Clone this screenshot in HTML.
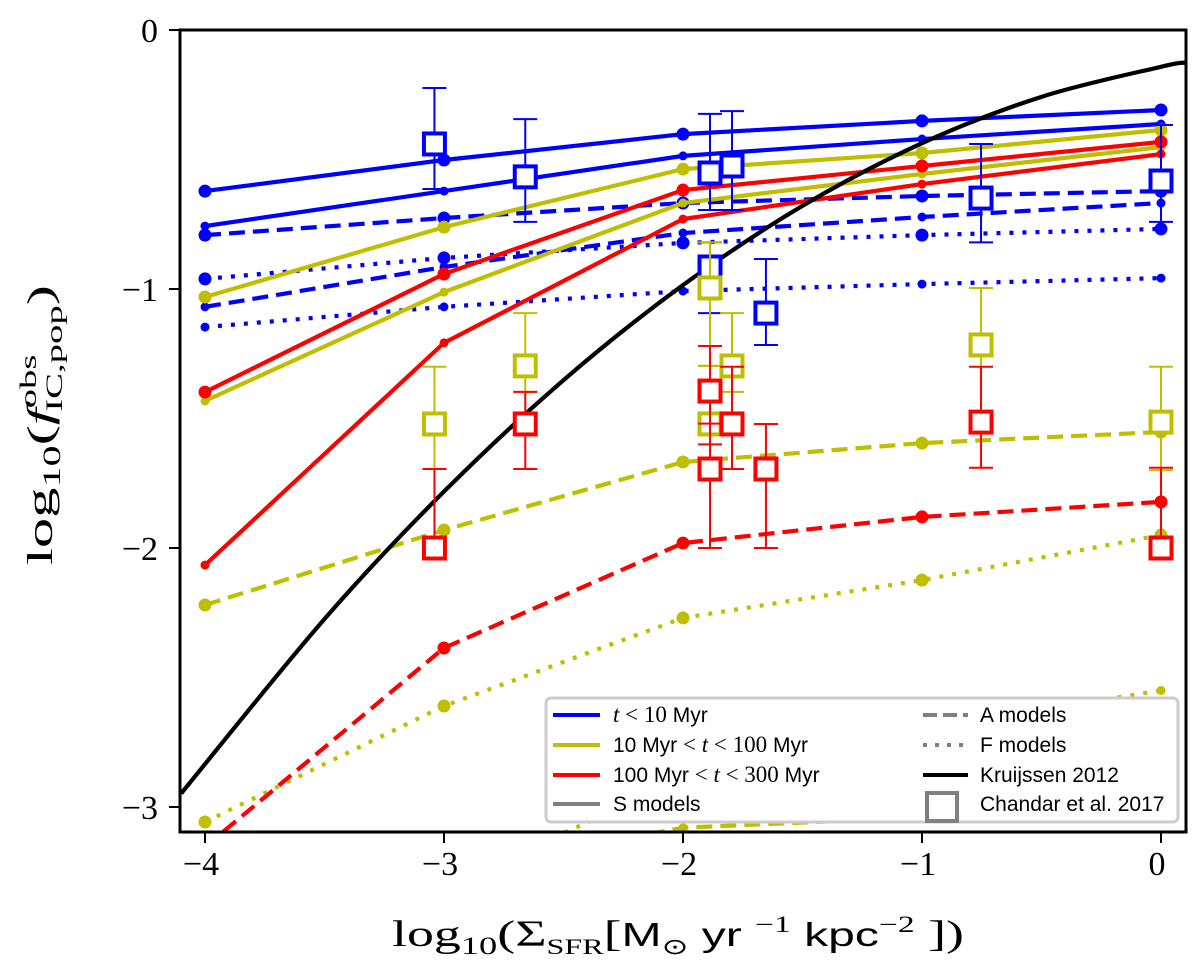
<!DOCTYPE html>
<html><head><meta charset="utf-8"><style>
html,body{margin:0;padding:0;background:#fff;overflow:hidden;width:1200px;height:969px;}
#wrap{position:relative;width:1200px;height:969px;overflow:hidden;}
svg{display:block;position:absolute;left:0;top:0;}
</style></head><body>
<div id="wrap">
<svg id="chart" width="1200" height="969" xmlns="http://www.w3.org/2000/svg">
<defs><clipPath id="clip"><rect x="181" y="31" width="1004" height="800"/></clipPath></defs>
<rect width="1200" height="969" fill="#fff"/>
<g id="plot" clip-path="url(#clip)"></g>
<g id="axes"></g>
</svg>
<script>
const xCats = [-4, -3, -2, -1, 0];
const blueS1 = [-0.622, -0.502, -0.402, -0.351, -0.309];
const blueS2 = [-0.757, -0.622, -0.486, -0.421, -0.363];
const blueA1 = [-0.792, -0.726, -0.668, -0.641, -0.622];
const blueA2 = [-1.069, -0.915, -0.784, -0.722, -0.668];
const blueF1 = [-0.961, -0.880, -0.822, -0.792, -0.768];
const blueF2 = [-1.147, -1.069, -1.008, -0.981, -0.958];
const yellowS1 = [-1.031, -0.761, -0.537, -0.475, -0.386];
const yellowS2 = [-1.432, -1.012, -0.668, -0.556, -0.452];
const yellowA1 = [-2.220, -1.931, -1.668, -1.595, -1.552];
const yellowA2 = [-3.5, -3.25, -3.08, -3.04, -3.0];
const yellowF1 = [-3.058, -2.610, -2.270, -2.124, -1.950];
const yellowF2 = [-3.8, -3.3, -2.9, -2.7, -2.55];
const redS1 = [-1.398, -0.942, -0.618, -0.525, -0.432];
const redS2 = [-2.066, -1.208, -0.730, -0.595, -0.479];
const redA1 = [-3.154, -2.386, -1.981, -1.880, -1.822];
const kruX = [-4.1, -3.5, -3, -2.5, -2, -1.5, -1, -0.5, 0, 0.1];
const kruY = [-2.948, -2.274, -1.782, -1.352, -0.985, -0.679, -0.437, -0.258, -0.142, -0.126];
const chX = [-3.04, -2.66, -1.887, -1.795, -1.887, -1.653, -0.753, 0,
             -3.04, -2.66, -1.887, -1.887, -1.795, -0.753, 0,
             -3.04, -2.66, -1.887, -1.887, -1.795, -1.653, -0.753, 0];
const chY = [-0.44, -0.567, -0.552, -0.525, -0.915, -1.093, -0.649, -0.583,
             -1.521, -1.297, -0.996, -1.521, -1.297, -1.216, -1.514,
             -2.0, -1.521, -1.394, -1.695, -1.521, -1.695, -1.514, -2.0];
const chHi = [-0.224, -0.344, -0.324, -0.313, -0.82, -0.884, -0.44, -0.367,
              -1.30, -1.093, -0.82, -1.297, -1.093, -0.996, -1.30,
              -1.695, -1.397, -1.22, -1.52, -1.30, -1.521, -1.30, -1.69];
const chLo = [-0.614, -0.741, -0.695, -0.695, -1.093, -1.216, -0.82, -0.741,
              -1.695, -1.397, -1.297, -1.70, -1.397, -1.52, -1.70,
              -2.0, -1.695, -1.6, -2.0, -1.695, -2.0, -1.69, -2.0];
const chGroup = ['b','b','b','b','b','b','b','b','y','y','y','y','y','y','y','r','r','r','r','r','r','r','r'];
const xTicks = [-4, -3, -2, -1, 0];
const xTickLabels = ['−4', '−3', '−2', '−1', '0'];
const yTicks = [0, -1, -2, -3];
const yTickLabels = ['0', '−1', '−2', '−3'];

const X = v => 1161 + 239 * v;
const Y = v => 30 - 259 * v;
const NS = 'http://www.w3.org/2000/svg';
const COL = {b: '#0000ff', y: '#bfbf00', r: '#ff0000'};
function mk(tag, attrs, parent) {
  const e = document.createElementNS(NS, tag);
  for (const k in attrs) e.setAttribute(k, attrs[k]);
  parent.appendChild(e);
  return e;
}
const plot = document.getElementById('plot');
const axes = document.getElementById('axes');
const DASH = {S: '', A: '16,8', F: '4,9'};

function series(vals, color, style, r, name) {
  const g = mk('g', {}, plot);
  
  
  const pts = xCats.map((x, i) => X(x) + ',' + Y(vals[i])).join(' ');
  const pl = mk('polyline', {points: pts, fill: 'none', stroke: color, 'stroke-width': 4.2, 'stroke-dasharray': DASH[style]}, g);
  
  
  xCats.forEach((x, i) => {
    const c = mk('circle', {cx: X(x), cy: Y(vals[i]), r: r, fill: color}, g);
    
    
  });
}
series(blueS1, COL.b, 'S', 6.5, 'blue-s-model-1');
series(blueS2, COL.b, 'S', 4.5, 'blue-s-model-2');
series(blueA1, COL.b, 'A', 6.5, 'blue-a-model-1');
series(blueA2, COL.b, 'A', 4.5, 'blue-a-model-2');
series(blueF1, COL.b, 'F', 6.5, 'blue-f-model-1');
series(blueF2, COL.b, 'F', 4.5, 'blue-f-model-2');
series(yellowS1, COL.y, 'S', 6.5, 'yellow-s-model-1');
series(yellowS2, COL.y, 'S', 4.5, 'yellow-s-model-2');
series(yellowA1, COL.y, 'A', 6.5, 'yellow-a-model-1');
series(yellowA2, COL.y, 'A', 4.5, 'yellow-a-model-2');
series(yellowF1, COL.y, 'F', 6.5, 'yellow-f-model-1');
series(yellowF2, COL.y, 'F', 4.5, 'yellow-f-model-2');
series(redS1, COL.r, 'S', 6.5, 'red-s-model-1');
series(redS2, COL.r, 'S', 4.5, 'red-s-model-2');
series(redA1, COL.r, 'A', 6.5, 'red-a-model-1');

(function () {
  const P = kruX.map((x, i) => [X(x), Y(kruY[i])]);
  let d = 'M' + P[0][0] + ',' + P[0][1];
  for (let i = 0; i < P.length - 1; i++) {
    const p0 = P[Math.max(0, i - 1)], p1 = P[i], p2 = P[i + 1], p3 = P[Math.min(P.length - 1, i + 2)];
    const c1 = [p1[0] + (p2[0] - p0[0]) / 6, p1[1] + (p2[1] - p0[1]) / 6];
    const c2 = [p2[0] - (p3[0] - p1[0]) / 6, p2[1] - (p3[1] - p1[1]) / 6];
    d += ' C' + c1 + ' ' + c2 + ' ' + p2;
  }
  const k = mk('path', {d: d, fill: 'none', stroke: '#000', 'stroke-width': 4.2}, plot);
  
  
})();

chX.forEach((x, i) => {
  const g = mk('g', {}, plot);
  
  
  const c = COL[chGroup[i]], px = X(x);
  mk('line', {x1: px, x2: px, y1: Y(chHi[i]), y2: Y(chLo[i]), stroke: c, 'stroke-width': 2}, g);
  mk('line', {x1: px - 12, x2: px + 12, y1: Y(chHi[i]), y2: Y(chHi[i]), stroke: c, 'stroke-width': 2}, g);
  mk('line', {x1: px - 12, x2: px + 12, y1: Y(chLo[i]), y2: Y(chLo[i]), stroke: c, 'stroke-width': 2}, g);
  mk('rect', {x: px - 10.5, y: Y(chY[i]) - 10.5, width: 21, height: 21, fill: '#fff', stroke: c, 'stroke-width': 4}, g);
});

const fr = mk('rect', {x: 180, y: 30, width: 1006, height: 802, fill: 'none', stroke: '#000', 'stroke-width': 3}, axes);


xTicks.forEach((t, i) => {
  mk('line', {x1: X(t), x2: X(t), y1: 832, y2: 843, stroke: '#000', 'stroke-width': 2}, axes);
  const tx = mk('text', {x: X(t) - 4, y: 875, 'text-anchor': 'middle', 'font-size': 34, 'font-family': 'Liberation Serif, serif'}, axes);
  tx.textContent = xTickLabels[i];
  
  
});
yTicks.forEach((t, i) => {
  mk('line', {x1: 169, x2: 180, y1: Y(t), y2: Y(t), stroke: '#000', 'stroke-width': 2}, axes);
  const tx = mk('text', {x: 158, y: Y(t) + 12, 'text-anchor': 'end', 'font-size': 34, 'font-family': 'Liberation Serif, serif'}, axes);
  tx.textContent = yTickLabels[i];
  
  
});
</script>
<svg width="1200" height="969" xmlns="http://www.w3.org/2000/svg">
<text x="392" y="946" textLength="572" lengthAdjust="spacingAndGlyphs" font-family="Liberation Serif, serif" font-size="37">log<tspan font-size="25" dy="8">10</tspan><tspan dy="-8">(Σ</tspan><tspan font-size="22" dy="8">SFR</tspan><tspan dy="-8">[</tspan><tspan font-family="Liberation Sans, sans-serif" font-size="33">M</tspan><tspan font-size="22" dy="8">⊙</tspan><tspan dy="-8" font-family="Liberation Sans, sans-serif" font-size="33">  yr </tspan><tspan font-size="23" dy="-14">−1</tspan><tspan dy="14" font-family="Liberation Sans, sans-serif" font-size="33">  kpc</tspan><tspan font-size="23" dy="-14">−2</tspan><tspan dy="14"> ])</tspan></text>
<g transform="translate(52,565) rotate(-90)">
<text x="0" y="0" textLength="280" lengthAdjust="spacingAndGlyphs" font-family="Liberation Serif, serif" font-size="36">log<tspan font-size="25" dy="8">10</tspan><tspan dy="-8">(</tspan><tspan font-style="italic">f</tspan><tspan font-size="23" dy="-16">obs</tspan><tspan font-size="23" dx="-34" dy="26">IC,pop</tspan><tspan dy="-10">)</tspan></text>
</g>
<g font-family="Liberation Sans, sans-serif" font-size="21">
<rect x="546" y="698" width="632" height="124" rx="5" fill="#fff" stroke="#ccc" stroke-width="3"/>
<g><line x1="553" x2="600" y1="715" y2="715" stroke="#0000ff" stroke-width="4"/><text x="613" y="722"><tspan font-family="Liberation Serif, serif" font-style="italic" font-size="23">t</tspan><tspan font-family="Liberation Serif, serif" font-size="23">  &lt;  10</tspan> Myr</text></g>
<g><line x1="553" x2="600" y1="745" y2="745" stroke="#bfbf00" stroke-width="4"/><text x="613" y="752">10 Myr <tspan font-family="Liberation Serif, serif" font-size="23"> &lt;  </tspan><tspan font-family="Liberation Serif, serif" font-style="italic" font-size="23">t</tspan><tspan font-family="Liberation Serif, serif" font-size="23">  &lt;  100</tspan> Myr</text></g>
<g><line x1="553" x2="600" y1="775" y2="775" stroke="#ff0000" stroke-width="4"/><text x="613" y="782">100 Myr <tspan font-family="Liberation Serif, serif" font-size="23"> &lt;  </tspan><tspan font-family="Liberation Serif, serif" font-style="italic" font-size="23">t</tspan><tspan font-family="Liberation Serif, serif" font-size="23">  &lt;  300</tspan> Myr</text></g>
<g><line x1="553" x2="600" y1="804" y2="804" stroke="#808080" stroke-width="4"/><text x="613" y="811">S models</text></g>
<g><line x1="923" x2="968" y1="715" y2="715" stroke="#808080" stroke-width="4" stroke-dasharray="14,6"/><text x="980" y="722">A models</text></g>
<g><line x1="923" x2="968" y1="745" y2="745" stroke="#808080" stroke-width="4" stroke-dasharray="4,8"/><text x="980" y="752">F models</text></g>
<g><line x1="923" x2="968" y1="775" y2="775" stroke="#000" stroke-width="4"/><text x="980" y="782">Kruijssen 2012</text></g>
<g><rect x="927" y="793" width="30" height="28" fill="#fff" stroke="#808080" stroke-width="4"/><text x="980" y="811">Chandar et al. 2017</text></g>
</g>
</svg>
</div>
</body></html>
